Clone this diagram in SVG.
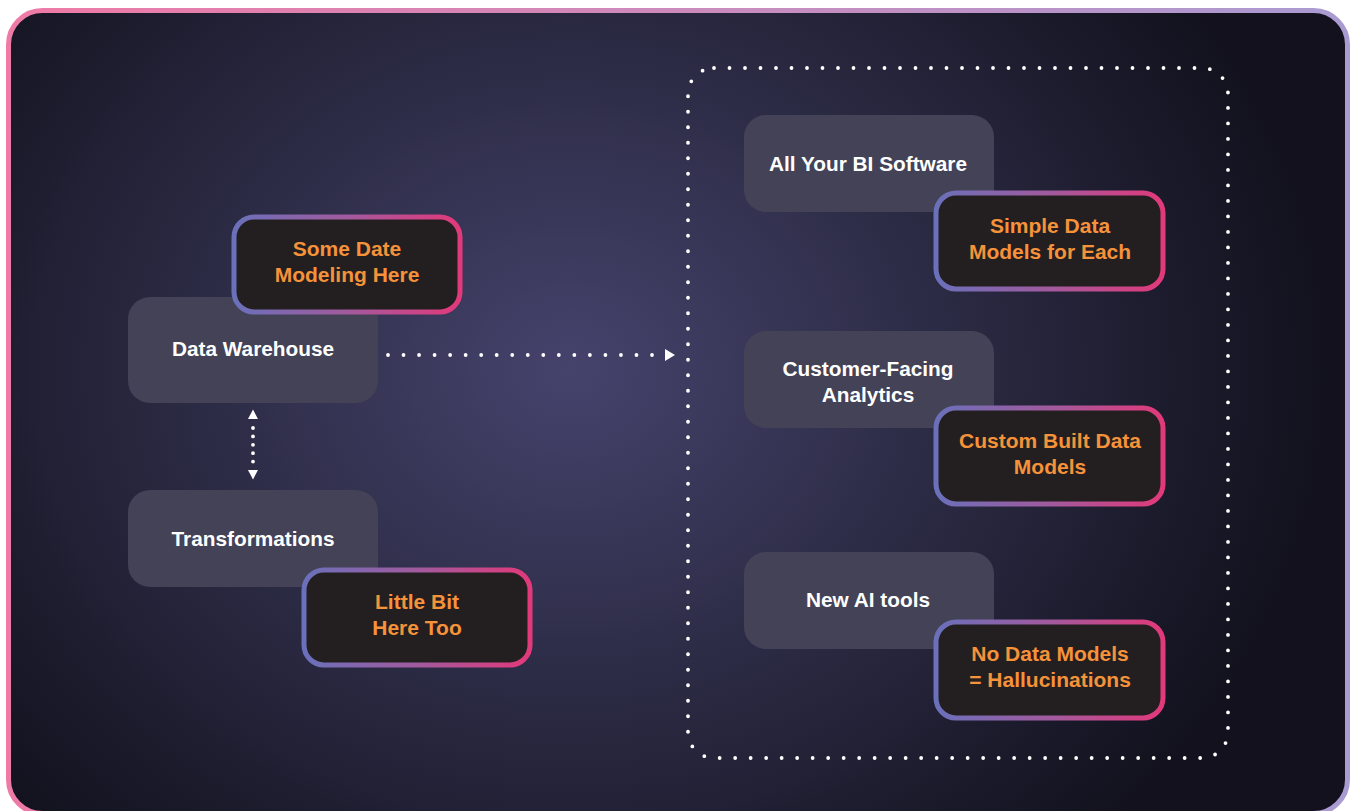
<svg xmlns="http://www.w3.org/2000/svg" width="1353" height="811" viewBox="0 0 1353 811">
<defs>
<radialGradient id="bg" gradientUnits="userSpaceOnUse" cx="570" cy="370" r="760" gradientTransform="translate(570 370) scale(1 0.85) translate(-570 -370)">
<stop offset="0" stop-color="#45436c"/>
<stop offset="0.45" stop-color="#2e2d48"/>
<stop offset="1" stop-color="#12111d"/>
</radialGradient>
<linearGradient id="frame" x1="0" y1="0" x2="1" y2="0">
<stop offset="0" stop-color="#ef7aa6"/>
<stop offset="1" stop-color="#a99bd2"/>
</linearGradient>
<linearGradient id="edge" x1="0" y1="0" x2="1" y2="0">
<stop offset="0" stop-color="#6a70ba"/>
<stop offset="0.5" stop-color="#a25a9e"/>
<stop offset="1" stop-color="#e2397a"/>
</linearGradient>
</defs>
<style>
.gray{fill:#434256;}
.hl{fill:#231f20;stroke:url(#edge);stroke-width:5;}
.wt{fill:#ffffff;font-family:"Liberation Sans",Arial,sans-serif;font-weight:bold;font-size:20.8px;text-anchor:middle;}
.ot{fill:#f5923a;font-family:"Liberation Sans",Arial,sans-serif;font-weight:bold;font-size:21px;text-anchor:middle;}
.dots{fill:none;stroke:#ffffff;stroke-width:3.8;stroke-linecap:round;}
.tri{fill:#ffffff;}
</style>
<rect x="8.5" y="10.5" width="1339" height="803" rx="34" fill="url(#bg)" stroke="url(#frame)" stroke-width="5"/>

<g id="connectors">
<rect x="688" y="68" width="540" height="690" rx="26" class="dots" stroke-dasharray="0 15.5"/>
<line x1="388" y1="355" x2="653" y2="355" class="dots" stroke-dasharray="0 15.53"/>
<polygon class="tri" points="665,349 665,361 675,355"/>
<line x1="253" y1="428" x2="253" y2="462" class="dots" stroke-dasharray="0 8.4"/>
<polygon class="tri" points="253,409.5 248,419 258,419"/>
<polygon class="tri" points="253,479.5 248,470 258,470"/>
</g>

<g id="data-warehouse">
<rect class="gray" x="128" y="297" width="250" height="106" rx="22"/>
<text class="wt" x="253" y="356">Data Warehouse</text>
</g>
<g id="some-date-modeling">
<rect class="hl" x="234" y="217" width="226" height="95" rx="20"/>
<text class="ot" x="347" y="256">Some Date</text>
<text class="ot" x="347" y="282">Modeling Here</text>
</g>

<g id="transformations">
<rect class="gray" x="128" y="490" width="250" height="97" rx="22"/>
<text class="wt" x="253" y="546">Transformations</text>
</g>
<g id="little-bit">
<rect class="hl" x="304" y="570" width="226" height="95" rx="20"/>
<text class="ot" x="417" y="609">Little Bit</text>
<text class="ot" x="417" y="635">Here Too</text>
</g>

<g id="bi-software">
<rect class="gray" x="744" y="115" width="250" height="97" rx="22"/>
<text class="wt" x="868" y="171">All Your BI Software</text>
</g>
<g id="simple-data-models">
<rect class="hl" x="936" y="193" width="227" height="96" rx="20"/>
<text class="ot" x="1050" y="233">Simple Data</text>
<text class="ot" x="1050" y="259">Models for Each</text>
</g>

<g id="customer-analytics">
<rect class="gray" x="744" y="331" width="250" height="97" rx="22"/>
<text class="wt" x="868" y="376">Customer-Facing</text>
<text class="wt" x="868" y="402">Analytics</text>
</g>
<g id="custom-built">
<rect class="hl" x="936" y="408" width="227" height="96" rx="20"/>
<text class="ot" x="1050" y="448">Custom Built Data</text>
<text class="ot" x="1050" y="474">Models</text>
</g>

<g id="new-ai-tools">
<rect class="gray" x="744" y="552" width="250" height="97" rx="22"/>
<text class="wt" x="868" y="607">New AI tools</text>
</g>
<g id="no-data-models">
<rect class="hl" x="936" y="622" width="227" height="96" rx="20"/>
<text class="ot" x="1050" y="661">No Data Models</text>
<text class="ot" x="1050" y="687">= Hallucinations</text>
</g>
</svg>
